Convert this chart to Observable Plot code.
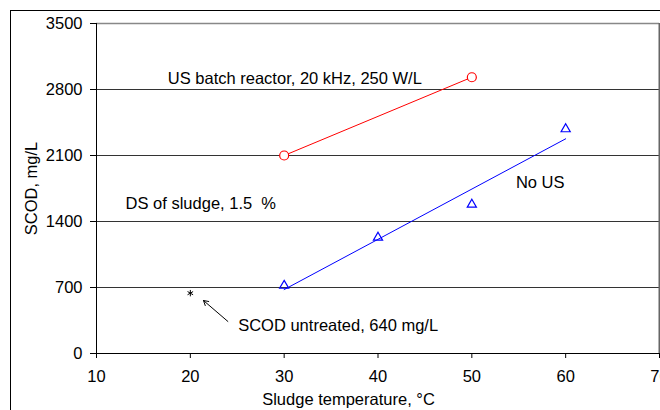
<!DOCTYPE html>
<html>
<head>
<meta charset="utf-8">
<script src="https://cdn.jsdelivr.net/npm/d3@7"></script>
<script src="https://cdn.jsdelivr.net/npm/@observablehq/plot@0.6"></script>
<style>
  html, body { margin: 0; padding: 0; background: #fff; }
  #wrap { position: relative; width: 660px; height: 410px; overflow: hidden; font-family: "Liberation Sans", Arial, sans-serif; }
  #frame { position: absolute; left: 10px; top: 10px; width: 700px; height: 460px; border-left: 1px solid #000; border-top: 1px solid #000; }
  #chart { position: absolute; left: 0; top: 0; }
  svg text { white-space: pre; }
</style>
</head>
<body>
<div id="wrap"><div id="frame"></div><div id="chart"></div></div>
<script>
// Data
const usTemps = [30, 50];
const usScod = [2100, 2930];
const noUsTemps = [30, 40, 50, 60];
const noUsScod = [720, 1230, 1580, 2380];
const untreatedTemp = [20];
const untreatedScod = [640];
const xTicks = [10, 20, 30, 40, 50, 60, 70];
const yTicks = [0, 700, 1400, 2100, 2800, 3500];
const labelTexts = ["US batch reactor, 20 kHz, 250 W/L", "DS of sludge, 1.5  %", "No US", "SCOD untreated, 640 mg/L"];
const labelX = [17.6, 13.1, 54.7, 25.1];
const labelY = [2917, 1591, 1814, 297];
const arrowFrom = [24.0, 340];
const arrowTo = [21.4, 562];

const us = usTemps.map((t, i) => ({t, v: usScod[i]}));
const noUs = noUsTemps.map((t, i) => ({t, v: noUsScod[i]}));
const untreated = untreatedTemp.map((t, i) => ({t, v: untreatedScod[i]}));
const labels = labelTexts.map((text, i) => ({text, x: labelX[i], y: labelY[i]}));
const arrows = [{x1: arrowFrom[0], y1: arrowFrom[1], x2: arrowTo[0], y2: arrowTo[1]}];

const FS = 16.5;
const chart = Plot.plot({
  width: 660,
  height: 410,
  marginLeft: 96,
  marginTop: 23,
  marginRight: 1,
  marginBottom: 57,
  style: {fontFamily: '"Liberation Sans", Arial, sans-serif', fontSize: FS + "px", background: "transparent", overflow: "visible"},
  x: {domain: [10, 70], ticks: xTicks},
  y: {domain: [0, 3500], ticks: yTicks},
  marks: [
    Plot.ruleY(yTicks.filter(d => d > 0 && d < 3500), {stroke: "#333", strokeWidth: 1}),
    Plot.ruleY([3500], {stroke: "#888", strokeWidth: 1.5}),
    Plot.ruleX([70], {stroke: "#666", strokeWidth: 2}),
    Plot.axisY({ticks: yTicks, tickSize: 6, tickPadding: 8, tickFormat: d => String(d), label: null, fontSize: FS, stroke: "#000"}),
    Plot.axisX({ticks: xTicks, tickSize: 5, tickPadding: 12, tickFormat: d => String(d), label: null, fontSize: FS, stroke: "#000"}),
    Plot.ruleX([10], {stroke: "#000"}),
    Plot.ruleY([0], {stroke: "#000"}),
    Plot.line(us, {x: "t", y: "v", stroke: "#ff0000", strokeWidth: 1}),
    Plot.dot(us, {x: "t", y: "v", r: 4.5, stroke: "#ff0000", fill: "#fff", strokeWidth: 1.2}),
    Plot.linearRegressionY(noUs, {x: "t", y: "v", stroke: "#0000ff", strokeWidth: 1, ci: 0}),
    Plot.dot(noUs, {x: "t", y: "v", symbol: "triangle", r: 3.4, stroke: "#0000ff", fill: "none", strokeWidth: 1.2}),
    Plot.dot(untreated, {x: "t", y: "v", symbol: "asterisk", r: 3, stroke: "#000", strokeWidth: 1}),
    Plot.arrow(arrows, {x1: "x1", y1: "y1", x2: "x2", y2: "y2", stroke: "#000", strokeWidth: 1, headLength: 8}),
    Plot.text(labels, {x: "x", y: "y", text: "text", textAnchor: "start", lineAnchor: "middle", fontSize: FS, fill: "#000"}),
    Plot.text(["Sludge temperature, °C"], {frameAnchor: "bottom", dx: -29.5, dy: 46, lineAnchor: "middle", fontSize: FS, fill: "#000"}),
    Plot.text(["SCOD, mg/L"], {frameAnchor: "left", dx: -65, rotate: -90, textAnchor: "middle", lineAnchor: "middle", fontSize: FS, fill: "#000"})
  ]
});
document.getElementById("chart").appendChild(chart);
</script>
</body>
</html>
